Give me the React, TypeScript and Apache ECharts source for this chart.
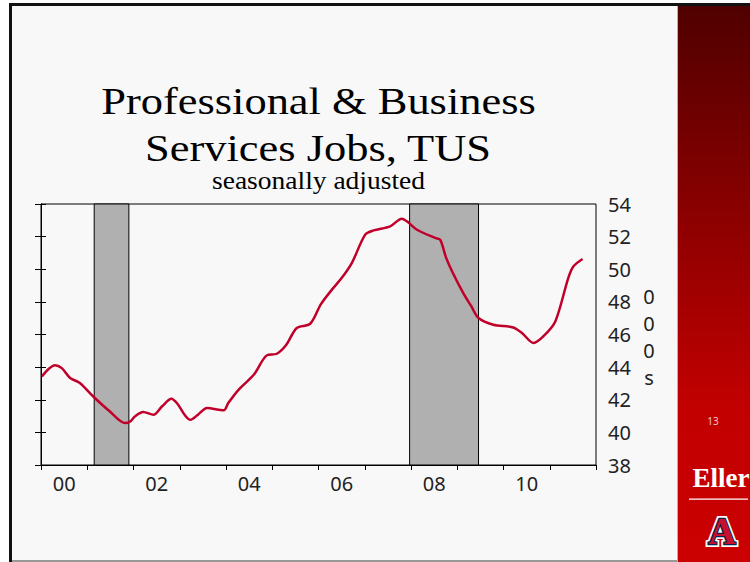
import React, { useEffect, useRef } from 'react';
import * as echarts from 'echarts';

// x labels (two-digit years), one band per year 2000-2011
const yearLabels = ['00', '01', '02', '03', '04', '05', '06', '07', '08', '09', '10', '11'];
// y axis range (thousands of jobs)
const yMin = 38;
const yMax = 54;
const yStep = 2;

// position in years since Jan 2000
const yearPos = [
  0.02, 0.17, 0.30, 0.45, 0.63, 0.84, 1.13, 1.49, 1.82, 1.93, 2.03, 2.21, 2.43, 2.62, 2.82,
  2.95, 3.12, 3.23, 3.40, 3.59, 3.95, 4.05, 4.27, 4.60, 4.88, 5.10, 5.30, 5.53, 5.82, 6.05,
  6.29, 6.50, 6.72, 7.01, 7.19, 7.55, 7.80, 7.95, 8.13, 8.52, 8.63, 8.76, 8.90, 9.13, 9.30,
  9.46, 9.78, 10.21, 10.40, 10.65, 10.86, 11.12, 11.40, 11.51, 11.71,
];
// jobs, thousands
const jobs = [
  43.43, 43.90, 44.12, 43.94, 43.33, 43.03, 42.20, 41.28, 40.57, 40.67, 40.98, 41.25, 41.08, 41.60, 42.06,
  41.75, 41.02, 40.77, 41.10, 41.49, 41.35, 41.80, 42.61, 43.53, 44.72, 44.82, 45.35, 46.40, 46.66, 47.85,
  48.75, 49.46, 50.38, 52.12, 52.38, 52.63, 53.10, 52.85, 52.42, 51.92, 51.81, 50.70, 49.80, 48.54, 47.75,
  47.01, 46.60, 46.43, 46.09, 45.48, 45.88, 46.80, 49.46, 50.17, 50.63,
];
// recessions (years since Jan 2000)
const recessionStart = [1.15, 7.97];
const recessionEnd = [1.90, 9.46];

const SANS = 'Noto Sans';
const SERIF = 'Liberation Serif';

function txt(text: string, x: number, y: number, fontSize: number, family: string, fill: string, extra: any = {}) {
  return {
    type: 'text',
    x,
    y,
    z: 20,
    ...extra,
    style: {
      text,
      fontSize,
      fontFamily: family,
      fill,
      align: 'center',
      textAlign: 'center',
      verticalAlign: 'middle',
      textVerticalAlign: 'middle',
      ...(extra.style || {}),
    },
  };
}

export default function App() {
  const ref = useRef<HTMLDivElement>(null);
  useEffect(() => {
    const chart = echarts.init(ref.current!, null, { renderer: 'svg' });
    const option: any = {
      animation: false,
      backgroundColor: '#ffffff',
      grid: {
        left: 41,
        right: 154,
        top: 204,
        bottom: 97,
        show: true,
        borderColor: '#000',
        borderWidth: 1,
        backgroundColor: 'transparent',
        containLabel: false,
      },
      xAxis: [
        {
          type: 'value',
          min: 0,
          max: yearLabels.length,
          interval: 1,
          position: 'bottom',
          axisLine: { show: true, lineStyle: { color: '#000', width: 1 } },
          axisTick: { show: true, length: 5, lineStyle: { color: '#000' } },
          axisLabel: { show: false },
          splitLine: { show: false },
        },
        {
          type: 'category',
          data: yearLabels,
          position: 'bottom',
          boundaryGap: true,
          axisLine: { show: false },
          axisTick: { show: false },
          axisLabel: { interval: 1, fontSize: 20, fontFamily: SANS, color: '#222', margin: 8 },
          splitLine: { show: false },
        },
      ],
      yAxis: [
        {
          type: 'value',
          position: 'right',
          min: yMin,
          max: yMax,
          interval: yStep,
          axisLine: { show: true, lineStyle: { color: '#000', width: 1 } },
          axisTick: { show: true, length: 5, lineStyle: { color: '#000' } },
          axisLabel: { fontSize: 20, fontFamily: SANS, color: '#222', margin: 12 },
          splitLine: { show: false },
        },
        {
          type: 'value',
          position: 'left',
          min: yMin,
          max: yMax,
          interval: yStep,
          axisLine: { show: true, lineStyle: { color: '#000', width: 1 } },
          axisTick: { show: true, length: 6, lineStyle: { color: '#000' } },
          axisLabel: { show: false },
          splitLine: { show: false },
        },
      ],
      series: [
        {
          type: 'line',
          xAxisIndex: 0,
          yAxisIndex: 0,
          data: yearPos.map((x, i) => [x, jobs[i]]),
          smooth: 0.3,
          symbol: 'none',
          lineStyle: { color: '#c0002a', width: 2.5 },
          z: 5,
          markArea: {
            silent: true,
            itemStyle: { color: '#b0b0b0', borderColor: '#000', borderWidth: 1, opacity: 1 },
            data: recessionStart.map((s, i) => [{ xAxis: s }, { xAxis: recessionEnd[i] }]),
          },
        },
      ],
      graphic: [
        { type: 'rect', z: -10, shape: { x: 12, y: 6, width: 738, height: 556 }, style: { fill: '#f8f8f8' } },
        { type: 'rect', z: -9, shape: { x: 9, y: 3, width: 3, height: 559 }, style: { fill: '#111' } },
        { type: 'rect', z: -9, shape: { x: 9, y: 3, width: 741, height: 3 }, style: { fill: '#111' } },
        { type: 'rect', z: -9, shape: { x: 12, y: 560, width: 665, height: 2 }, style: { fill: '#999' } },
        {
          type: 'rect',
          z: -9,
          shape: { x: 677, y: 6, width: 73, height: 556 },
          style: {
            fill: {
              type: 'linear', x: 0, y: 0, x2: 0, y2: 1,
              colorStops: [
                { offset: 0, color: '#500000' },
                { offset: 0.72, color: '#c20000' },
                { offset: 1, color: '#cc0000' },
              ],
            },
          },
        },
        { type: 'rect', z: -8, shape: { x: 677, y: 6, width: 1, height: 556 }, style: { fill: '#c9a9a9' } },
        txt('Professional & Business', 318.5, 101, 38, SERIF, '#000', { scaleX: 1.17 }),
        txt('Services Jobs, TUS', 318, 148, 38, SERIF, '#000', { scaleX: 1.17 }),
        txt('seasonally adjusted', 318.5, 181, 25, SERIF, '#000', { scaleX: 1.1 }),
        txt('0\n0\n0\ns', 649, 337, 20, SANS, '#222', { style: { lineHeight: 27 } }),
        txt('13', 713, 421, 10, SANS, '#f2c4c4'),
        txt('Eller', 721, 478, 27, SERIF, '#ffffff', {
          style: { fontWeight: 'bold', textShadowColor: '#2b4a8a', textShadowBlur: 0, textShadowOffsetX: 1, textShadowOffsetY: 1.5 },
        }),
        { type: 'rect', z: 20, shape: { x: 689, y: 498.5, width: 59, height: 1.2 }, style: { fill: '#ffffff' } },
        txt('A', 722, 531, 38, SERIF, '#ffffff', {
          style: { fontWeight: 'bold', stroke: '#ffffff', lineWidth: 6 },
        }),
        txt('A', 722, 531, 38, SERIF, '#c8102e', {
          style: { fontWeight: 'bold', stroke: '#0c234b', lineWidth: 2.5 },
        }),
      ],
    };
    chart.setOption(option);
    return () => chart.dispose();
  }, []);
  return <div ref={ref} style={{ position: 'fixed', left: 0, top: 0, width: 750, height: 562 }} />;
}
